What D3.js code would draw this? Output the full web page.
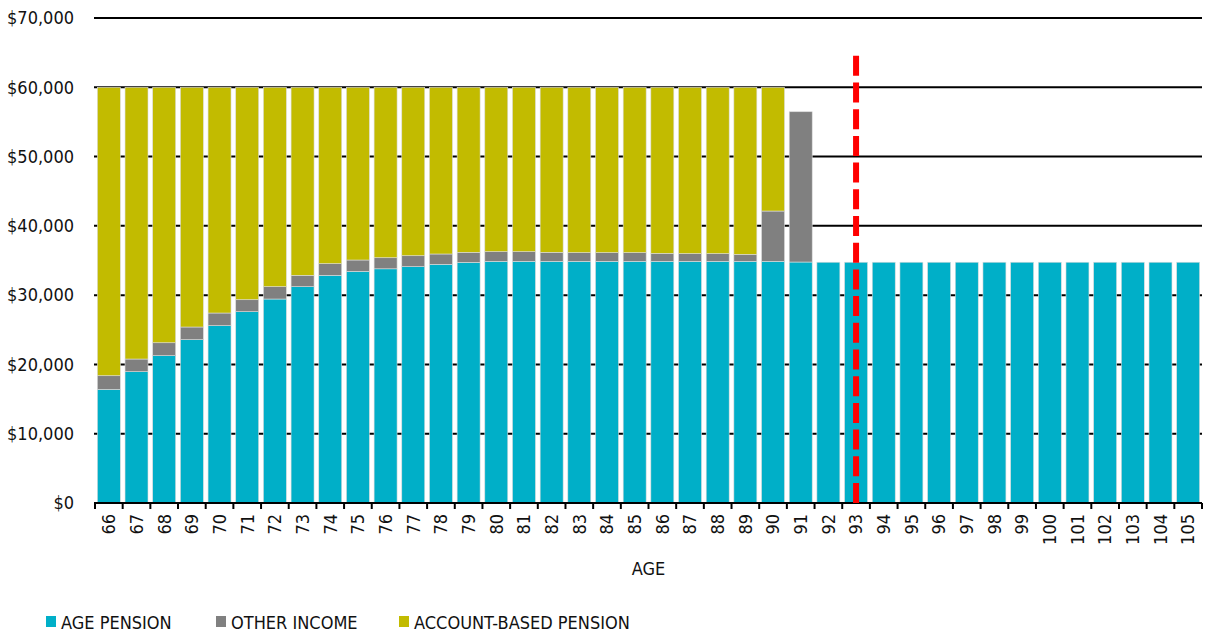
<!DOCTYPE html>
<html>
<head>
    <meta charset="utf-8">
    <title>Retirement income by age</title>
    <style type="text/css">
        body { margin: 0; background: #fff; }
        svg text { font-family: "Liberation Sans Narrow", "DejaVu Sans Condensed", "Arial Narrow", sans-serif; fill: #111; }
    </style>
</head>
<body>
    <svg class="chart"></svg>
    <script src="https://cdn.jsdelivr.net/npm/d3@7"></script>
    <script type="text/javascript">
        // 数据
        var ages = ["66","67","68","69","70","71","72","73","74","75","76","77","78","79","80","81","82","83","84","85",
                    "86","87","88","89","90","91","92","93","94","95","96","97","98","99","100","101","102","103","104","105"];
        var agePension = [16400,18950,21260,23570,25590,27610,29440,31220,32860,33440,33800,34110,34450,34740,34880,34880,34880,34880,34880,34880,
                          34880,34880,34880,34880,34880,34780,34750,34750,34750,34750,34750,34750,34750,34750,34750,34750,34750,34750,34750,34750];
        var otherIncome = [1970,1830,1870,1830,1830,1730,1780,1640,1680,1630,1600,1580,1490,1440,1390,1390,1300,1250,1250,1250,
                           1150,1110,1110,1010,7260,21690,0,0,0,0,0,0,0,0,0,0,0,0,0,0];
        var accountBased = [41630,39220,36870,34600,32580,30660,28780,27140,25460,24930,24600,24310,24060,23820,23730,23730,23820,23870,23870,23870,
                            23970,24010,24010,24110,17860,0,0,0,0,0,0,0,0,0,0,0,0,0,0,0];
        var seriesNames = ["AGE PENSION", "OTHER INCOME", "ACCOUNT-BASED PENSION"];
        var seriesColors = ["#00afc8", "#808080", "#c2bb00"];
        var yTicks = [0,10000,20000,30000,40000,50000,60000,70000];
        var markerAge = "93";
        var markerTop = 65500;

        var width = 1210, height = 632;
        var margin = {top: 18, right: 8, bottom: 129, left: 95};

        var svg = d3.select("svg.chart")
            .attr("width", width)
            .attr("height", height);

        var x = d3.scaleBand()
            .domain(ages)
            .range([margin.left, width - margin.right])
            .paddingInner(0.17)
            .paddingOuter(0.085);

        var y = d3.scaleLinear()
            .domain([0, 70000])
            .range([height - margin.bottom, margin.top]);

        // 堆叠数据
        var table = ages.map((a, i) => ({age: a, s0: agePension[i], s1: otherIncome[i], s2: accountBased[i]}));
        var stack = d3.stack().keys(["s0", "s1", "s2"])(table);

        // 网格线
        svg.append("g")
            .selectAll("line")
            .data(yTicks.filter(d => d > 0))
            .join("line")
                .attr("x1", margin.left - 1)
                .attr("x2", width - margin.right)
                .attr("y1", d => y(d))
                .attr("y2", d => y(d))
                .attr("stroke", "#000")
                .attr("stroke-width", 2);

        // y轴标签
        svg.append("g")
            .selectAll("text")
            .data(yTicks)
            .join("text")
                .attr("x", 74)
                .attr("y", d => y(d))
                .attr("dy", "0.35em")
                .attr("text-anchor", "end")
                .style("font-size", "18px")
                .text(d => "$" + d3.format(",")(d));

        // 柱子
        svg.append("g")
            .selectAll("g")
            .data(stack)
            .join("g")
                .attr("fill", (d, i) => seriesColors[i])
            .selectAll("rect")
            .data(d => d.filter(p => p[1] - p[0] > 0))
            .join("rect")
                .attr("x", d => x(d.data.age))
                .attr("width", x.bandwidth())
                .attr("y", d => y(d[1]))
                .attr("height", d => y(d[0]) - y(d[1]))
                .attr("stroke", "#dcdcdc")
                .attr("stroke-width", 0.6);

        // x轴
        var xAxis = svg.append("g")
            .attr("transform", `translate(0,${y(0)})`);

        xAxis.append("line")
            .attr("x1", margin.left - 1)
            .attr("x2", width - margin.right)
            .attr("stroke", "#000")
            .attr("stroke-width", 2);

        var step = x.step();
        var edges = ages.map(a => x(a) - x.paddingInner() * step / 2).concat([width - margin.right]);
        xAxis.selectAll("line.tick")
            .data(edges)
            .join("line")
                .attr("class", "tick")
                .attr("x1", d => d)
                .attr("x2", d => d)
                .attr("y1", 0)
                .attr("y2", 6)
                .attr("stroke", "#000")
                .attr("stroke-width", 2);

        xAxis.selectAll("text")
            .data(ages)
            .join("text")
                .attr("transform", d => `translate(${x(d) + x.bandwidth() / 2},11) rotate(-90)`)
                .attr("text-anchor", "end")
                .attr("dy", "0.35em")
                .style("font-size", "18px")
                .text(d => d);

        svg.append("text")
            .attr("x", (margin.left + width - margin.right) / 2)
            .attr("y", 575)
            .attr("text-anchor", "middle")
            .style("font-size", "18px")
            .text("AGE");

        // 红色虚线
        svg.append("line")
            .attr("x1", x(markerAge) + x.bandwidth() / 2)
            .attr("x2", x(markerAge) + x.bandwidth() / 2)
            .attr("y1", y(0))
            .attr("y2", y(markerTop))
            .attr("stroke", "#ff0000")
            .attr("stroke-width", 6)
            .attr("stroke-dasharray", "20,6.7");

        // 图例
        var legendX = [46, 216, 399];
        var legend = svg.append("g")
            .selectAll("g")
            .data(seriesNames)
            .join("g")
                .attr("transform", (d, i) => `translate(${legendX[i]},616)`);

        legend.append("rect")
            .attr("width", 10)
            .attr("height", 11)
            .attr("fill", (d, i) => seriesColors[i]);

        legend.append("text")
            .attr("x", 15)
            .attr("y", 12.5)
            .style("font-size", "18px")
            .text(d => d);
    </script>
</body>
</html>
